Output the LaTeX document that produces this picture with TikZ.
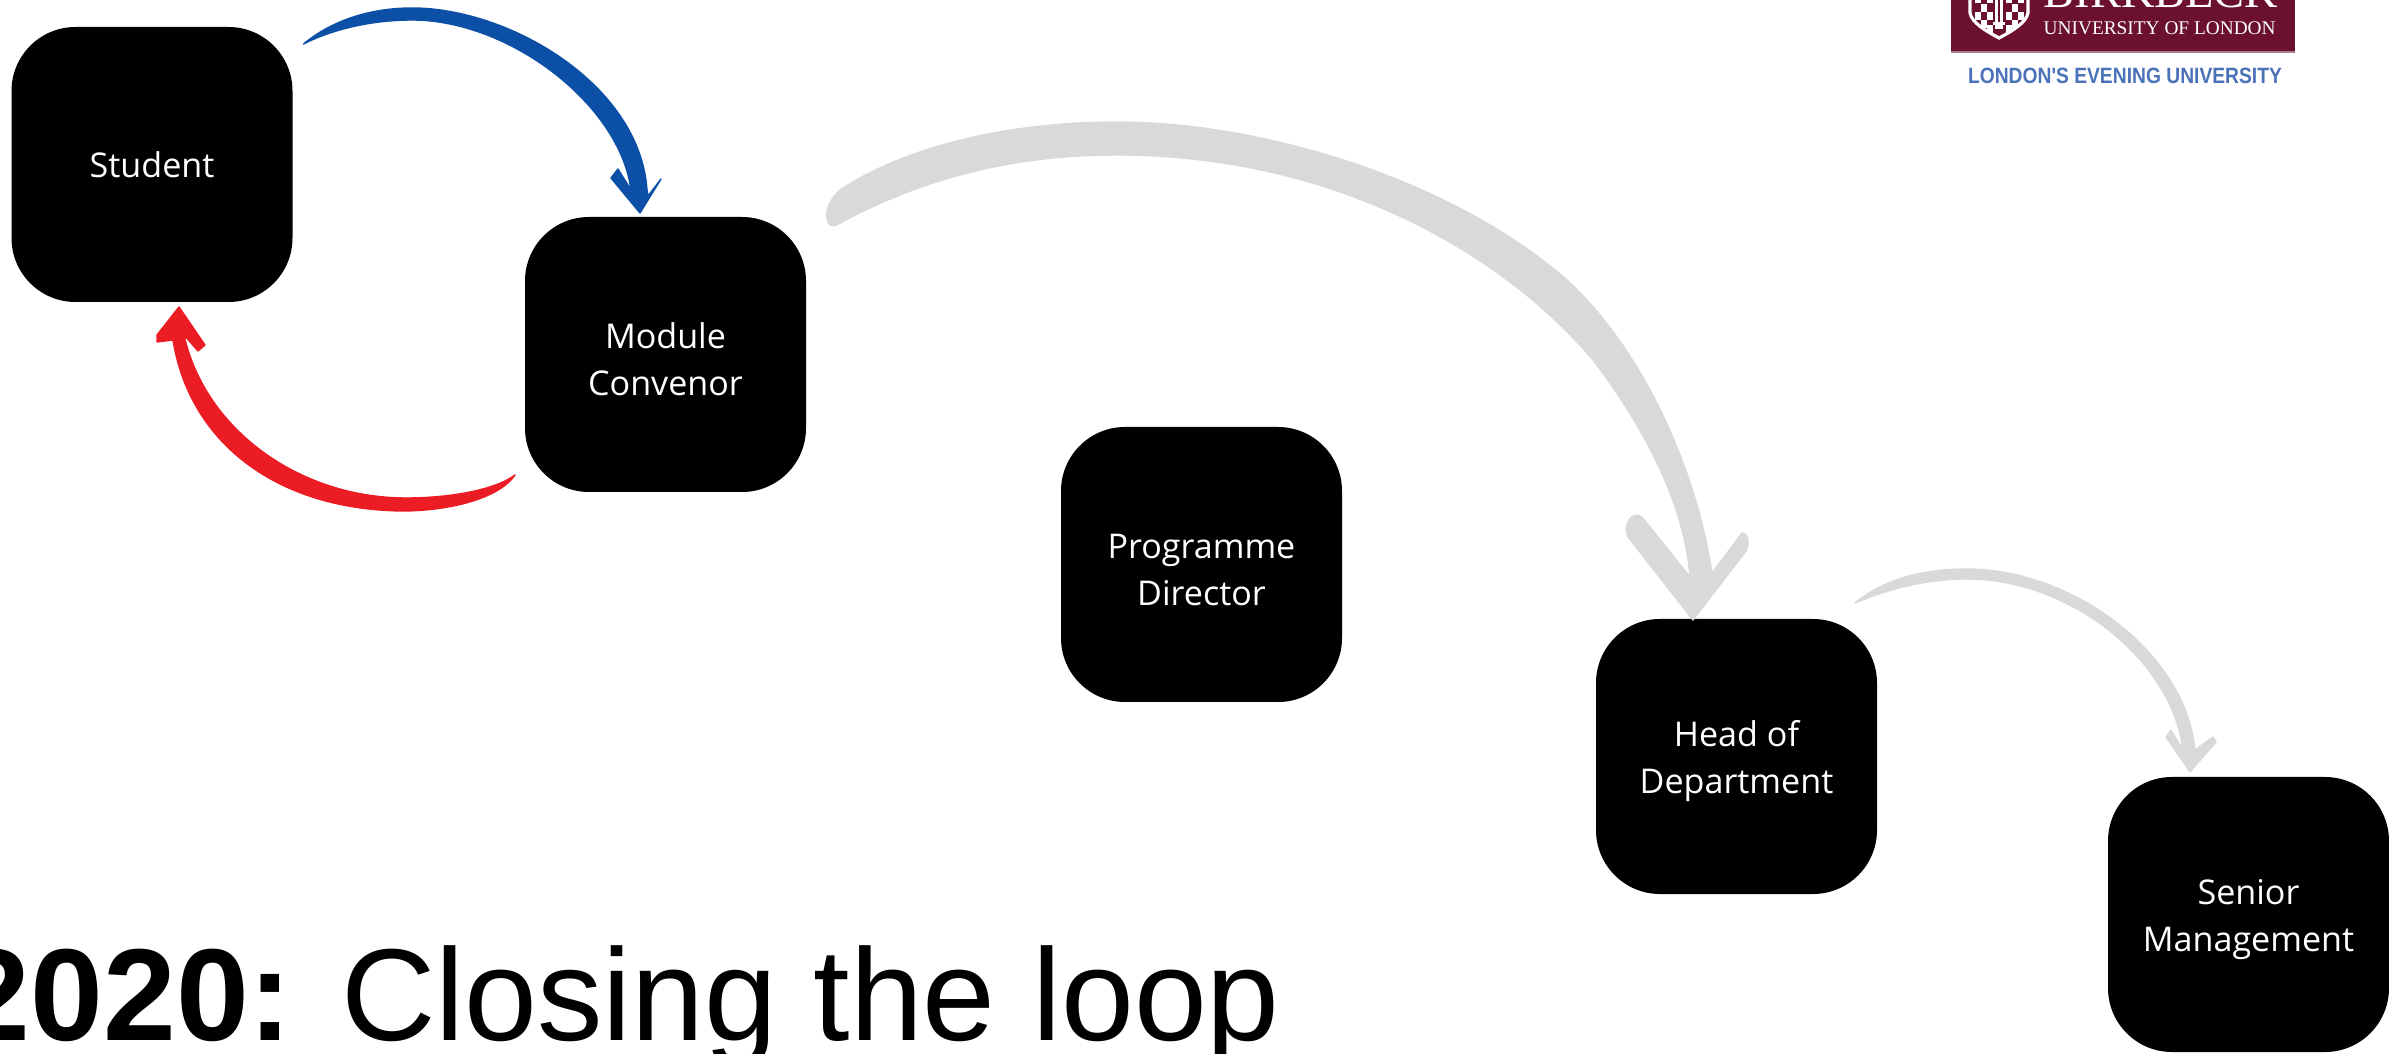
\documentclass[tikz,border=0pt]{standalone}
\usepackage{fontspec}
\setmainfont{Liberation Sans}
\newfontfamily\boxfont{Open Sans}
\newfontfamily\crestfont{Liberation Serif}
\newfontfamily\sloganfont[FakeStretch=0.87]{Liberation Sans}
\definecolor{arrowblue}{HTML}{0B4FA6}
\definecolor{arrowred}{HTML}{EC1C24}
\definecolor{arrowgray}{HTML}{D9D9D9}
\definecolor{crest}{HTML}{6B1030}
\definecolor{slogan}{HTML}{4A72B8}
\newcommand{\rolelines}[2]{\rule{0pt}{10pt}#1\\#2}
\begin{document}
\begin{tikzpicture}[
	role/.style = {fill = black, text = white, rounded corners = 0.64cm, minimum width = 2.81cm, minimum height = 2.75cm, inner sep = 0pt, outer sep = 0pt, align = center, font = \boxfont\fontsize{9.7}{13.3}\selectfont},
	sweep/.style = {line width = 0.4pt, line join = round}]
	\useasboundingbox (0,0) rectangle (23.89,10.53);
	\node (ST) at ( 1.52,  8.885)	[role]	{Student};
	\node (MC) at ( 6.655, 6.985)	[role]	{\rolelines{Module}{Convenor}};
	\node (PD) at (12.015, 4.885)	[role]	{\rolelines{Programme}{Director}};
	\node (HD) at (17.365, 2.965)	[role]	{\rolelines{Head of}{Department}};
	\node (SM) at (22.485, 1.385)	[role]	{\rolelines{Senior}{Management}};
	\coordinate (B1) at ([shift={( 0.11,-0.17)}]ST.north east);
	\coordinate (B2) at ([shift={(-0.255,0.04)}]MC.north);
	\coordinate (R1) at ([shift={(-0.10, 0.17)}]MC.south west);
	\coordinate (R2) at ([shift={( 0.27,-0.05)}]ST.south);
	\coordinate (G1) at ([shift={( 0.22,-0.05)}]MC.north east);
	\coordinate (G2) at ([shift={(-0.435,-0.01)}]HD.north);
	\coordinate (G3) at ([shift={(-0.22, 0.16)}]HD.north east);
	\coordinate (G4) at ([shift={(-0.585,0.05)}]SM.north);
	\draw [sweep, draw = arrowblue, fill = arrowblue] (B1) .. controls (3.35,10.35) and (3.75,10.45) .. (4.12,10.45)
		.. controls (5.10,10.45) and (6.40,9.68) .. (6.47,8.63) -- (6.48,8.57) -- (6.61,8.74) -- (B2)
		-- (6.11,8.75) -- (6.18,8.84) -- (6.31,8.63)
		.. controls (6.20,9.48) and (5.10,10.33) .. (4.12,10.33)
		.. controls (3.75,10.33) and (3.35,10.25) .. (B1) -- cycle;
	\draw [sweep, draw = arrowred, fill = arrowred] (R1) .. controls (5.00,5.56) and (4.55,5.43) .. (4.06,5.42)
		.. controls (2.80,5.42) and (1.90,6.08) .. (1.73,7.13) -- (1.57,7.11) -- (1.57,7.18) -- (R2)
		-- (2.05,7.08) -- (1.98,7.02) -- (1.84,7.18)
		.. controls (2.05,6.23) and (3.00,5.55) .. (4.06,5.55)
		.. controls (4.50,5.55) and (4.95,5.63) .. (R1) -- cycle;
	\draw [sweep, draw = arrowgray, fill = arrowgray] (G1) .. controls (8.24,8.43) and (8.30,8.53) .. (8.40,8.63)
		.. controls (9.00,9.03) and (10.00,9.31) .. (11.17,9.31)
		.. controls (12.60,9.31) and (14.50,8.75) .. (15.67,7.73)
		.. controls (16.40,7.06) and (16.95,5.90) .. (17.12,4.80)
		-- (17.42,5.20) .. controls (17.48,5.20) and (17.50,5.10) .. (17.46,5.02) -- (G2)
		-- (16.28,5.16) .. controls (16.22,5.28) and (16.32,5.43) .. (16.42,5.36) -- (16.90,4.76)
		.. controls (16.85,5.43) and (16.50,6.18) .. (15.93,6.93)
		.. controls (15.00,8.03) and (13.30,8.98) .. (11.17,8.98)
		.. controls (10.20,8.98) and (9.30,8.78) .. (8.42,8.31)
		.. controls (8.36,8.27) and (8.30,8.25) .. (G1) -- cycle;
	\draw [sweep, draw = arrowgray, fill = arrowgray] (G3) .. controls (18.85,4.75) and (19.25,4.84) .. (19.67,4.84)
		.. controls (20.70,4.84) and (21.85,4.03) .. (21.95,3.03) -- (22.13,3.16) -- (22.16,3.11) -- (G4)
		-- (21.66,3.16) -- (21.71,3.23) -- (21.83,3.03)
		.. controls (21.72,3.93) and (20.70,4.74) .. (19.67,4.74)
		.. controls (19.25,4.74) and (18.85,4.63) .. (G3) -- cycle;
	\node (TL) at (-0.43, 0.13)	[anchor = base west, inner sep = 0pt, font = \fontsize{37.25}{44}\selectfont]	{\textbf{2020:} Closing the loop};
	\fill [crest] (19.51,10.01) rectangle (22.95,10.60);
	\draw [crest!55!white, line width = 0.3pt] (19.51,10.01) -- (22.95,10.01);
	\draw [white, line width = 0.9pt, fill = crest] (19.70,10.60) -- (19.70,10.40) .. controls (19.72,10.30) and (19.86,10.22) .. (19.99,10.15) .. controls (20.12,10.22) and (20.26,10.30) .. (20.28,10.40) -- (20.28,10.60);
	\foreach \a/\b in {19.75/10.50, 19.87/10.50, 20.06/10.50, 20.18/10.50, 19.81/10.41, 20.12/10.41, 19.75/10.33, 19.87/10.33, 20.06/10.33, 20.18/10.33, 19.81/10.25, 20.12/10.25, 19.87/10.20, 20.06/10.20}
		\fill [white] (\a,\b) rectangle +(0.06,0.08);
	\fill [white] (19.95,10.24) rectangle (20.03,10.60);
	\draw [crest, line width = 0.3pt] (19.99,10.30) -- (19.99,10.60);
	\fill [white] (19.93,10.28) rectangle (20.05,10.31);
	\node (BK) at (20.43, 10.45)	[anchor = base west, inner sep = 0pt, text = white, font = \crestfont\fontsize{13.2}{15}\selectfont]	{BIRKBECK};
	\node (UL) at (20.43, 10.18)	[anchor = base west, inner sep = 0pt, text = white, font = \crestfont\fontsize{5.5}{6}\selectfont]	{UNIVERSITY OF LONDON};
	\node (EU) at (21.25, 9.69)	[anchor = base, inner sep = 0pt, text = slogan, font = \sloganfont\bfseries\fontsize{6.3}{7}\selectfont]	{LONDON'S EVENING UNIVERSITY};
\end{tikzpicture}
\end{document}
